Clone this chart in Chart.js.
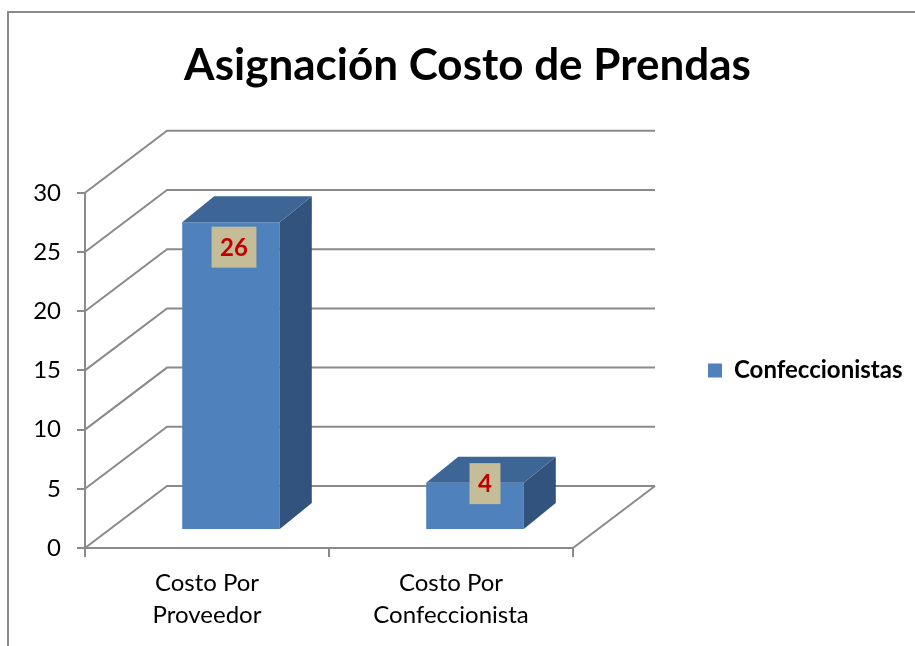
<!DOCTYPE html>
<html>
<head>
<meta charset="utf-8">
<script src="https://cdn.jsdelivr.net/npm/chart.js@4.4.1/dist/chart.umd.min.js"></script>
<style>
  html, body { margin: 0; padding: 0; background: #fff; }
</style>
</head>
<body>
<canvas id="chart" width="915" height="646"></canvas>
<script>
// Data
const categories = [['Costo Por', 'Proveedor'], ['Costo Por', 'Confeccionista']];
const seriesName = 'Confeccionistas';
const seriesValues = [26, 4];
const yTicks = [0, 5, 10, 15, 20, 25, 30];

// Look
const FRONT = '#4f81bd';
const TOP = '#3d6596';
const SIDE = '#32537d';
const GRID = '#8a8a8a';
const WALL = { dx: 82, dy: -62 };      // back wall offset
const BAR_SHIFT = { dx: 24, dy: -18 }; // bars sit part way into the depth
const BAR_DEPTH = { dx: 32, dy: -26 };
const LABEL_OFFSET = [[3, 25], [10, 1]];

Chart.defaults.font.family = 'Lato';
Chart.defaults.color = '#000';

const pseudo3d = {
  id: 'pseudo3d',
  beforeDraw(chart) {
    const ctx = chart.ctx;
    ctx.save();
    ctx.strokeStyle = GRID;
    ctx.lineWidth = 2;
    ctx.strokeRect(8, 12, 1000, 1000);
    ctx.restore();
  },
  beforeDatasetsDraw(chart) {
    const { ctx, chartArea: a, scales: { y } } = chart;
    ctx.save();
    ctx.strokeStyle = GRID;
    ctx.lineWidth = 2;
    ctx.beginPath();
    yTicks.forEach(v => {
      const py = y.getPixelForValue(v);
      ctx.moveTo(a.left, py);
      ctx.lineTo(a.left + WALL.dx, py + WALL.dy);
      ctx.lineTo(a.right + WALL.dx, py + WALL.dy);
    });
    ctx.moveTo(a.right, a.bottom);
    ctx.lineTo(a.right + WALL.dx, a.bottom + WALL.dy);
    ctx.stroke();
    ctx.restore();
  },
  beforeDatasetDraw(chart) {
    chart.ctx.save();
    chart.ctx.translate(BAR_SHIFT.dx, BAR_SHIFT.dy);
  },
  afterDatasetDraw(chart, args) {
    const ctx = chart.ctx;
    const { dx, dy } = BAR_DEPTH;
    args.meta.data.forEach(bar => {
      const l = bar.x - bar.width / 2, r = bar.x + bar.width / 2;
      const t = bar.y, b = bar.base;
      ctx.fillStyle = SIDE;
      ctx.beginPath();
      ctx.moveTo(r, t); ctx.lineTo(r + dx, t + dy); ctx.lineTo(r + dx, b + dy); ctx.lineTo(r, b);
      ctx.closePath();
      ctx.fill();
      ctx.fillStyle = TOP;
      ctx.beginPath();
      ctx.moveTo(l, t); ctx.lineTo(l + dx, t + dy); ctx.lineTo(r + dx, t + dy); ctx.lineTo(r, t);
      ctx.closePath();
      ctx.fill();
    });
    ctx.restore();
  },
  afterDatasetsDraw(chart) {
    const ctx = chart.ctx;
    const meta = chart.getDatasetMeta(0);
    ctx.save();
    ctx.font = 'bold 24px Lato';
    ctx.textAlign = 'center';
    ctx.textBaseline = 'middle';
    meta.data.forEach((bar, i) => {
      const text = String(seriesValues[i]);
      const cx = bar.x + BAR_SHIFT.dx + LABEL_OFFSET[i][0];
      const cy = bar.y + BAR_SHIFT.dy + LABEL_OFFSET[i][1];
      const w = ctx.measureText(text).width + 17, h = 41;
      ctx.fillStyle = '#c4bd97';
      ctx.fillRect(cx - w / 2, cy - h / 2, w, h);
      ctx.fillStyle = '#c00000';
      ctx.fillText(text, cx, cy + 1);
    });
    ctx.restore();
  }
};

new Chart(document.getElementById('chart'), {
  type: 'bar',
  data: {
    labels: categories,
    datasets: [{
      label: seriesName,
      data: seriesValues,
      backgroundColor: FRONT,
      borderWidth: 0,
      categoryPercentage: 0.5,
      barPercentage: 0.8,
      clip: false
    }]
  },
  options: {
    responsive: false,
    animation: false,
    layout: { padding: { left: 32, right: 12, top: 0, bottom: 0 } },
    plugins: {
      title: {
        display: true,
        text: 'Asignación Costo de Prendas',
        font: { size: 44, weight: 'bold' },
        color: '#000',
        padding: { top: 39, bottom: 101 }
      },
      legend: {
        position: 'right',
        fullSize: false,
        maxWidth: 330,
        labels: {
          boxWidth: 14,
          boxHeight: 14,
          padding: 135,
          font: { size: 24, weight: 'bold' },
          color: '#000'
        }
      },
      tooltip: { enabled: false }
    },
    scales: {
      x: {
        grid: { drawOnChartArea: false, offset: true, color: GRID, lineWidth: 2, tickLength: 9 },
        border: { display: true, color: GRID, width: 2 },
        ticks: { font: { size: 24, lineHeight: 1.34 }, padding: 10, maxRotation: 0 },
        afterFit: scale => { scale.height = 98; }
      },
      y: {
        min: 0,
        max: 30,
        afterBuildTicks: scale => { scale.ticks = yTicks.map(v => ({ value: v })); },
        grid: { drawOnChartArea: false, color: GRID, lineWidth: 2, tickLength: 8 },
        border: { display: true, color: GRID, width: 2 },
        ticks: { font: { size: 24 }, padding: 16 },
        afterFit: scale => { scale.width = 53; }
      }
    }
  },
  plugins: [pseudo3d]
});
</script>
</body>
</html>
